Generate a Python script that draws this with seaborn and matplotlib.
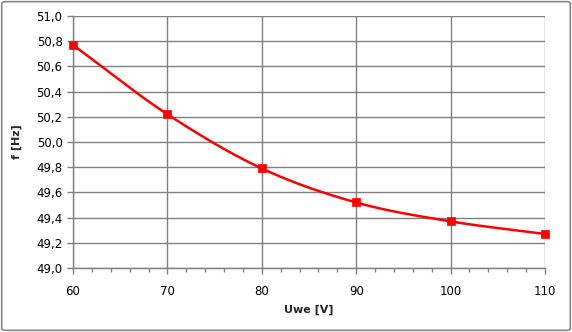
import numpy as np
import pandas as pd
import matplotlib
matplotlib.use("Agg")
import matplotlib.pyplot as plt
import seaborn as sns
from matplotlib.patches import FancyBboxPatch
from matplotlib.ticker import MultipleLocator, FuncFormatter

u_we = [60, 70, 80, 90, 100, 110]
freq = [50.77, 50.22, 49.79, 49.52, 49.37, 49.27]
x_label = "Uwe [V]"
y_label = "f [Hz]"

sns.set_theme(style="white")
plt.rcParams['font.family'] = ['DejaVu Sans']

def catmull_rom(xs, ys, n=30):
    xs = np.asarray(xs, float); ys = np.asarray(ys, float)
    px = np.concatenate([[2*xs[0]-xs[1]], xs, [2*xs[-1]-xs[-2]]])
    py = np.concatenate([[2*ys[0]-ys[1]], ys, [2*ys[-1]-ys[-2]]])
    ox, oy = [], []
    for i in range(1, len(px)-2):
        t = np.linspace(0, 1, n, endpoint=False)
        p0, p1, p2, p3 = (np.array([px[j], py[j]]) for j in range(i-1, i+3))
        b1 = p1 + (p2 - p0)/6
        b2 = p2 - (p3 - p1)/6
        for tt in t:
            pt = (1-tt)**3*p1 + 3*(1-tt)**2*tt*b1 + 3*(1-tt)*tt**2*b2 + tt**3*p2
            ox.append(pt[0]); oy.append(pt[1])
    ox.append(xs[-1]); oy.append(ys[-1])
    return ox, oy

sx, sy = catmull_rom(u_we, freq)
df_pts = pd.DataFrame({"x": u_we, "y": freq})
df_smooth = pd.DataFrame({"x": sx, "y": sy})

fig = plt.figure(figsize=(5.72, 3.32), dpi=100)
fig.patch.set_facecolor("white")
border = FancyBboxPatch((0.003, 0.005), 0.994, 0.99, boxstyle="round,pad=0,rounding_size=0.006",
                        transform=fig.transFigure, fill=False, edgecolor="#888888", linewidth=1.2)
fig.patches.append(border)

ax = fig.add_axes([73/572, (332-268)/332, (545-73)/572, (268-16)/332])
sns.lineplot(data=df_smooth, x="x", y="y", ax=ax, color="#ff0000", linewidth=1.8, sort=False, estimator=None)
sns.scatterplot(data=df_pts, x="x", y="y", ax=ax, color="#ff0000", marker="s", s=30,
                edgecolor="#ff0000", linewidth=0.5, zorder=5, clip_on=False)

ax.set_xlim(60, 110)
ax.set_ylim(49.0, 51.0)
ax.xaxis.set_major_locator(MultipleLocator(10))
ax.xaxis.set_minor_locator(MultipleLocator(2))
ax.yaxis.set_major_locator(MultipleLocator(0.2))
ax.yaxis.set_major_formatter(FuncFormatter(lambda v, p: f"{v:.1f}".replace(".", ",")))
ax.grid(True, which="major", color="#808080", linewidth=1)
ax.set_axisbelow(True)
for s in ["top", "right"]:
    ax.spines[s].set_visible(False)
for s in ["left", "bottom"]:
    ax.spines[s].set_color("#808080")
    ax.spines[s].set_linewidth(1)
ax.tick_params(axis="both", which="major", direction="out", length=4, color="#808080",
               width=1, labelsize=8.5, labelcolor="black", bottom=True, left=True)
ax.tick_params(axis="x", which="minor", direction="out", length=3, color="#808080", width=1, bottom=True)
ax.tick_params(axis="x", which="major", pad=8)
ax.set_xlabel(x_label, fontsize=8, fontweight="bold", labelpad=5)
ax.set_ylabel(y_label, fontsize=8, fontweight="bold", labelpad=10)

fig.savefig("out.png", dpi=100)
